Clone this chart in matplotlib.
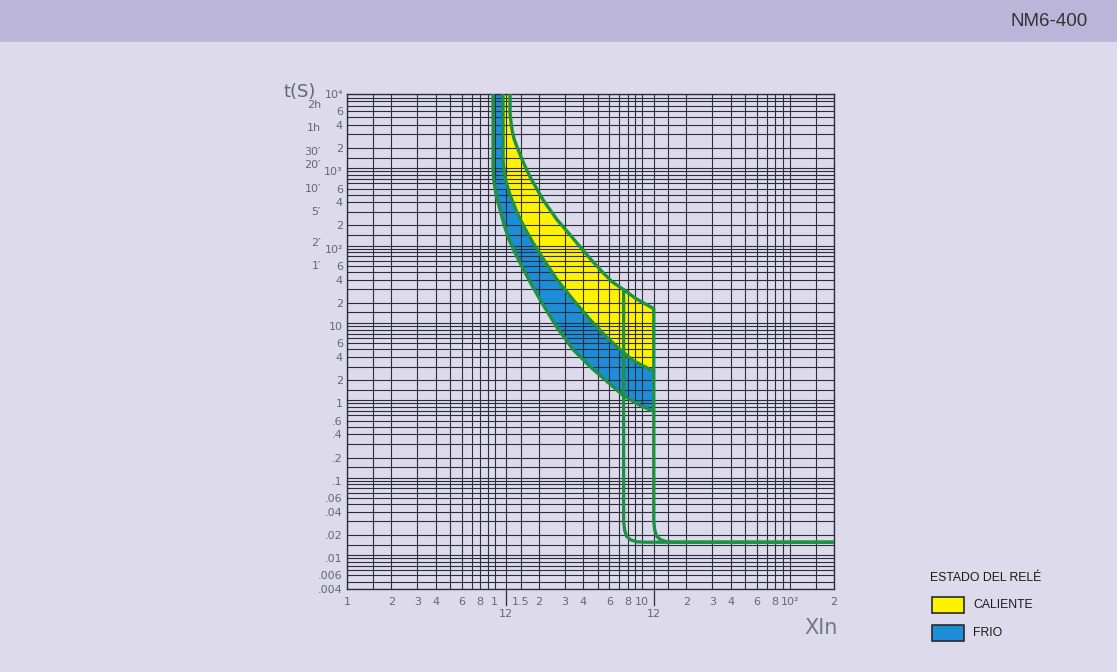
import matplotlib
matplotlib.use("Agg")
import matplotlib.pyplot as plt
from matplotlib.patches import Rectangle

# ---------------- data ----------------
# Upper boundary of the hot (CALIENTE) band
hot_x = [1.274, 1.274, 1.293, 1.314, 1.356, 1.421, 1.561, 1.741, 2.133, 2.653, 3.25, 3.799,
         4.581, 5.44, 6.26, 7.5, 9.11, 12]
hot_y = [10000, 5690, 4352, 3428, 2627, 2070, 1327, 849, 428, 237, 151.6, 106,
         70.0, 49.0, 37.5, 29.6, 22.6, 16.8]
# Boundary between hot and cold bands
mid_x = [1.142, 1.142, 1.16, 1.196, 1.274, 1.421, 1.61, 1.824, 2.199, 2.653, 3.406, 4.441,
         5.79, 7.09, 8.69, 12]
mid_y = [10000, 1406, 1045, 732, 498, 292, 181, 119.5, 68.0, 39.8, 22.0, 12.1,
         7.1, 4.98, 3.59, 2.6]
# Lower boundary of the cold (FRIO) band
cold_x = [0.977, 0.977, 0.992, 1.024, 1.09, 1.16, 1.254, 1.377, 1.561, 1.796, 2.133, 2.653,
          3.406, 4.441, 5.79, 7.43, 9.69, 12]
cold_y = [10000, 1045, 732, 498, 318, 204, 131, 88.8, 55.2, 33.3, 18.9, 9.56,
          4.98, 3.00, 1.92, 1.27, 0.942, 0.788]
# Instantaneous trip lines
trip1_x = [7.5, 7.5, 7.62, 7.86, 8.36, 9.19, 10.4, 200]
trip1_y = [29.6, 0.0300, 0.0230, 0.0192, 0.0173, 0.0163, 0.0161, 0.0161]
trip2_x = [12, 12, 12.19, 12.58, 13.38, 14.7, 16.4, 200]
trip2_y = [16.8, 0.0300, 0.0230, 0.0192, 0.0173, 0.0163, 0.0161, 0.0161]

# tick labels
xt_vals = [0.1, 0.2, 0.3, 0.4, 0.6, 0.8, 1, 1.5, 2, 3, 4, 6, 8, 10, 20, 30, 40, 60, 80, 100, 200]
xt_labels = ["1", "2", "3", "4", "6", "8", "1", "1.5", "2", "3", "4", "6", "8", "10",
             "2", "3", "4", "6", "8", "10²", "2"]
xt2_vals = [1.2, 12]
xt2_labels = ["12", "12"]
yt_vals = [1e4, 6e3, 4e3, 2e3, 1e3, 600, 400, 200, 100, 60, 40, 20, 10, 6, 4, 2,
           1, 0.6, 0.4, 0.2, 0.1, 0.06, 0.04, 0.02, 0.01, 0.006, 0.004]
yt_labels = ["10⁴", "6", "4", "2", "10³", "6", "4", "2", "10²", "6", "4", "2", "10", "6", "4", "2",
             "1", ".6", ".4", ".2", ".1", ".06", ".04", ".02", ".01", ".006", ".004"]
time_vals = [7200, 3600, 1800, 1200, 600, 300, 120, 60]
time_labels = ["2h", "1h", "30′", "20′", "10′", "5′", "2′", "1′"]

legend_title = "ESTADO DEL RELÉ"
legend_names = ["CALIENTE", "FRIO"]

# ---------------- styling ----------------
BG = "#dcdaeb"
HEADER = "#bbb6d9"
YELLOW = "#fff200"
BLUE = "#1c8ed8"
GREEN = "#1f9146"
GRID = "#2e2e3a"
TICKC = "#66667a"
NARROW = ["Liberation Sans Narrow", "DejaVu Sans"]
SANS = ["Liberation Sans", "DejaVu Sans"]

W, H = 1117, 672
fig = plt.figure(figsize=(W / 100, H / 100), dpi=100)
fig.patch.set_facecolor(BG)

# header band
fig.add_artist(Rectangle((0, 1 - 42 / H), 1, 42 / H, transform=fig.transFigure,
                         facecolor=HEADER, edgecolor="none", zorder=0))
fig.text(1088 / W, 1 - 22 / H, "NM6-400", ha="right", va="center",
         fontsize=13.5, color="#333333", family=SANS)

# axes
L, R, T, B = 347, 834, 94, 589
ax = fig.add_axes([L / W, (H - B) / H, (R - L) / W, (B - T) / H])
ax.set_facecolor("none")
ax.set_xscale("log")
ax.set_yscale("log")
ax.set_xlim(0.1, 200)
ax.set_ylim(0.004, 1e4)

# grid lines (log-paper style)
xm_first = [1, 1.5, 2, 3, 4, 5, 6, 7, 8, 9]
xm_other = [1, 1.2, 1.5, 2, 3, 4, 5, 6, 7, 8, 9]
xgrid = [m * 0.1 for m in xm_first] + list(xm_other) + [m * 10 for m in xm_other] + [100, 150, 200]
ym = [1, 1.1, 1.5, 2, 3, 4, 5, 6, 7, 8, 9]
ygrid = [m * 10.0 ** e for e in range(-3, 5) for m in ym]
for gx in xgrid:
    ax.axvline(gx, color=GRID, lw=0.8, zorder=1.5)
for gy in ygrid:
    if 0.004 <= gy <= 1e4:
        ax.axhline(gy, color=GRID, lw=0.8, zorder=1.5)

# bands
ax.fill(hot_x + mid_x[::-1], hot_y + mid_y[::-1], color=YELLOW, lw=0, zorder=1)
ax.fill(mid_x + cold_x[::-1], mid_y + cold_y[::-1], color=BLUE, lw=0, zorder=1)

# curves
lw = 2.4
for xs, ys in [(hot_x, hot_y), (mid_x, mid_y), (cold_x, cold_y), (trip1_x, trip1_y), (trip2_x, trip2_y)]:
    ax.plot(xs, ys, color=GREEN, lw=lw, zorder=3, solid_joinstyle="round", solid_capstyle="round")

# spines
for s in ax.spines.values():
    s.set_color(GRID)
    s.set_linewidth(1.0)

# ticks
ax.xaxis.set_minor_locator(matplotlib.ticker.NullLocator())
ax.yaxis.set_minor_locator(matplotlib.ticker.NullLocator())
ax.set_xticks(xt_vals)
ax.set_xticklabels(xt_labels)
ax.set_yticks(yt_vals)
ax.set_yticklabels(yt_labels)
ax.tick_params(axis="both", length=0, colors=TICKC, labelsize=8)
ax.tick_params(axis="x", pad=6)
ax.tick_params(axis="y", pad=3)
for lab in ax.get_xticklabels() + ax.get_yticklabels():
    lab.set_family(NARROW)

# second-row x labels with long ticks
xtr = ax.get_xaxis_transform()
for v, lab in zip(xt2_vals, xt2_labels):
    ax.plot([v, v], [0, -0.033], transform=xtr, color=GRID, lw=0.9, clip_on=False, zorder=3)
    ax.text(v, -0.05, lab, transform=xtr, ha="center", va="center", fontsize=8,
            color=TICKC, family=NARROW)

# time labels
ytr = ax.get_yaxis_transform()
for v, lab in zip(time_vals, time_labels):
    ax.text(-26 / (R - L), v, lab, transform=ytr, ha="right", va="center",
            fontsize=8, color=TICKC, family=NARROW)

fig.text(300 / W, 1 - 92 / H, "t(S)", ha="center", va="center", fontsize=13,
         color=TICKC, family=NARROW)
fig.text(838 / W, 1 - 628 / H, "XIn", ha="right", va="center", fontsize=15,
         color="#77778a", family=NARROW)

# legend
fig.text(930 / W, 1 - 578 / H, legend_title, ha="left", va="center", fontsize=8.8,
         color="#1a1a1a", family=SANS)
for i, (name, col) in enumerate(zip(legend_names, [YELLOW, BLUE])):
    y0 = 597 + i * 28
    fig.add_artist(Rectangle((932 / W, 1 - (y0 + 16) / H), 32 / W, 16 / H,
                             transform=fig.transFigure, facecolor=col,
                             edgecolor="#2a2a2a", lw=1.2))
    fig.text(973 / W, 1 - (y0 + 8) / H, name, ha="left", va="center",
             fontsize=8.8, color="#1a1a1a", family=SANS)

fig.savefig("out.png", dpi=100, facecolor=BG)
